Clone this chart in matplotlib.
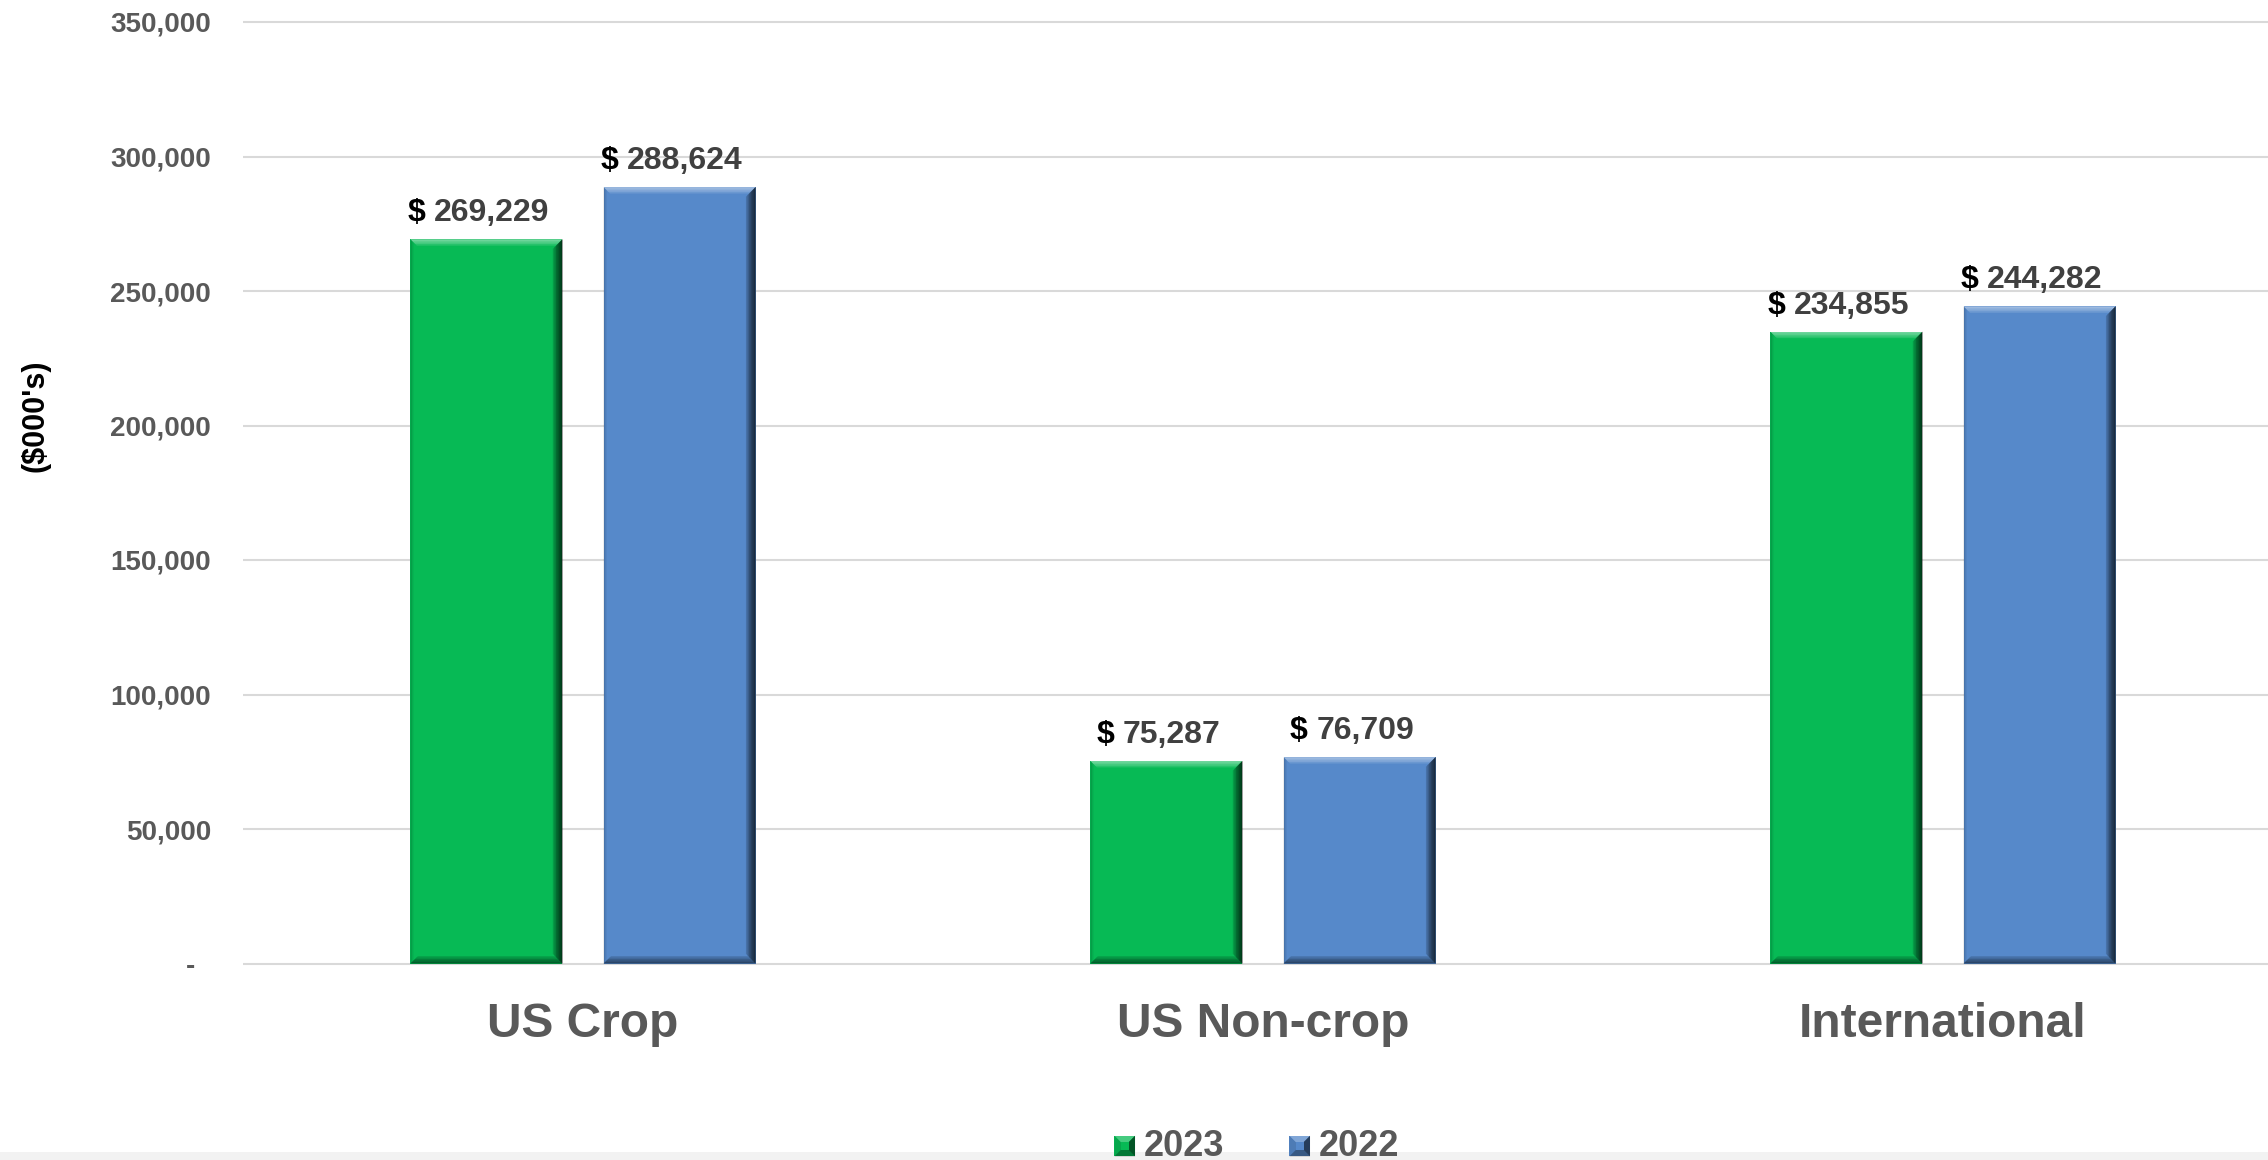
import numpy as np
import matplotlib.pyplot as plt
import matplotlib.transforms as mtransforms
from matplotlib.patches import Polygon, Rectangle, Patch
from matplotlib.legend_handler import HandlerBase
from matplotlib.offsetbox import TextArea, HPacker, AnnotationBbox

# sales by segment, $000's
categories = ["US Crop", "US Non-crop", "International"]
sales_2023 = [269229, 75287, 234855]
sales_2022 = [288624, 76709, 244282]
series_names = ["2023", "2022"]
yticks = [0, 50000, 100000, 150000, 200000, 250000, 300000, 350000]
ytick_labels = ["-", "50,000", "100,000", "150,000", "200,000",
                "250,000", "300,000", "350,000"]

plt.rcParams['font.family'] = ['Liberation Sans', 'DejaVu Sans']
plt.rcParams['font.weight'] = 'bold'

W, H = 2268, 1160
fig = plt.figure(figsize=(W / 100, H / 100), dpi=100)

ymin, ymax = -2000, 355000
ppu = 134.5 / 50000          # pixels per dollar unit on the y axis
ax_bottom = 196.5 - (0 - ymin) * ppu
ax_height = (ymax - ymin) * ppu
ax = fig.add_axes([243 / W, ax_bottom / H, 2040 / W, ax_height / H])
ax.set_xlim(-0.5, 2.5)
ax.set_ylim(ymin, ymax)

green = "#07ba55"
blue = "#5689ca"
grid_c = "#d9d9d9"
txt_c = "#595959"

width = 0.2235
offset = 0.142
x = np.arange(len(categories))

# bevel sizes in pixels -> data units
bx = 3.0 / 2040
by = 1.0 / ppu


def bevel_bar(xc, h, face):
    x0, x1 = xc - width / 2, xc + width / 2
    y0, y1 = 0, h
    ax.add_patch(Rectangle((x0, y0), width, h, facecolor=face,
                           edgecolor="none", zorder=2))
    # top highlight
    for k in range(1, 5):
        t = 1.6 * k
        ax.add_patch(Polygon([(x0, y1), (x1, y1), (x1 - t * bx, y1 - t * by),
                              (x0 + t * bx, y1 - t * by)],
                             closed=True, facecolor="white", alpha=0.13,
                             edgecolor="none", zorder=3))
    # right shadow
    for k in range(1, 7):
        t = 1.6 * k
        ax.add_patch(Polygon([(x1, y1), (x1, y0), (x1 - t * bx, y0 + t * by),
                              (x1 - t * bx, y1 - t * by)],
                             closed=True, facecolor="black", alpha=0.17,
                             edgecolor="none", zorder=3))
    # bottom shadow
    for k in range(1, 6):
        t = 1.5 * k
        ax.add_patch(Polygon([(x0, y0), (x1, y0), (x1 - t * bx, y0 + t * by),
                              (x0 + t * bx, y0 + t * by)],
                             closed=True, facecolor="black", alpha=0.12,
                             edgecolor="none", zorder=3))
    # left edge
    for k in range(1, 3):
        t = 1.5 * k
        ax.add_patch(Polygon([(x0, y0), (x0, y1), (x0 + t * bx, y1 - t * by),
                              (x0 + t * bx, y0 + t * by)],
                             closed=True, facecolor="black", alpha=0.08,
                             edgecolor="none", zorder=3))


def value_label(xc, h):
    parts = [TextArea("$", textprops=dict(color="black", fontsize=23,
                                          fontweight="bold")),
             TextArea(f"{h:,}", textprops=dict(color="#404040", fontsize=23,
                                               fontweight="bold"))]
    box = HPacker(children=parts, align="baseline", pad=0, sep=6)
    ab = AnnotationBbox(box, (xc, h), xybox=(-5.5, 8), xycoords="data",
                        boxcoords="offset points", box_alignment=(0.5, 0),
                        frameon=False, pad=0, zorder=4)
    ax.add_artist(ab)


class BevelSquare(HandlerBase):
    # small beveled square used as legend key
    def create_artists(self, legend, orig, xd, yd, w, h, fontsize, trans):
        face = orig.get_facecolor()
        s = min(w, h)
        x0, y0 = xd + (w - s) / 2, yd + (h - s) / 2
        x1, y1 = x0 + s, y0 + s
        b = s * 0.3
        cx, cy = (x0 + x1) / 2, (y0 + y1) / 2
        arts = [Rectangle((x0, y0), s, s, facecolor=face, edgecolor="none",
                          transform=trans)]
        tri = [([(x0, y1), (x1, y1), (cx, cy)], "white", 0.25),
               ([(x1, y1), (x1, y0), (cx, cy)], "black", 0.55),
               ([(x0, y0), (x1, y0), (cx, cy)], "black", 0.35),
               ([(x0, y0), (x0, y1), (cx, cy)], "black", 0.1)]
        for pts, c, a in tri:
            arts.append(Polygon(pts, closed=True, facecolor=c, alpha=a,
                                edgecolor="none", transform=trans))
        arts.append(Rectangle((x0 + b, y0 + b), s - 2 * b, s - 2 * b,
                              facecolor=face, edgecolor="none",
                              transform=trans))
        return arts


for xi, v in zip(x - offset, sales_2023):
    bevel_bar(xi, v, green)
    value_label(xi, v)
for xi, v in zip(x + offset, sales_2022):
    bevel_bar(xi, v, blue)
    value_label(xi, v)

ax.set_yticks(yticks)
ax.set_yticklabels(ytick_labels)
ax.set_xticks(x)
ax.set_xticklabels(categories)
ax.tick_params(axis="y", length=0, pad=23, labelsize=20, labelcolor=txt_c)
ax.tick_params(axis="x", length=0, pad=24, labelsize=34.5, labelcolor=txt_c)
for lab in ax.get_xticklabels() + ax.get_yticklabels():
    lab.set_fontweight("bold")
zero_lab = ax.get_yticklabels()[0]
zero_lab.set_transform(zero_lab.get_transform() +
                       mtransforms.ScaledTranslation(-0.16, 0, fig.dpi_scale_trans))

for yt in yticks:
    ax.axhline(yt, color=grid_c, linewidth=1.5, zorder=1)
for s in ax.spines.values():
    s.set_visible(False)

fig.text(35 / W, 1 - 416 / H, "($000's)", rotation=90, ha="center",
         va="center", fontsize=22, fontweight="bold", color="black")

# thin grey band along the bottom edge
fig.patches.append(Rectangle((0, 0), 1, 8 / H, transform=fig.transFigure,
                             facecolor="#f2f2f2", edgecolor="none", zorder=0))

handles = [Patch(facecolor=green), Patch(facecolor=blue)]
leg = fig.legend(handles, series_names, loc="center",
                 bbox_to_anchor=(1257 / W, 1 - 1146 / H), ncol=2,
                 frameon=False, fontsize=26, labelcolor=txt_c,
                 handlelength=0.57, handleheight=0.57, handletextpad=0.25,
                 columnspacing=1.8, borderpad=0, borderaxespad=0,
                 handler_map={Patch: BevelSquare()})
for t in leg.get_texts():
    t.set_fontweight("bold")
leg.set_zorder(5)

fig.savefig("out.png", dpi=100)
